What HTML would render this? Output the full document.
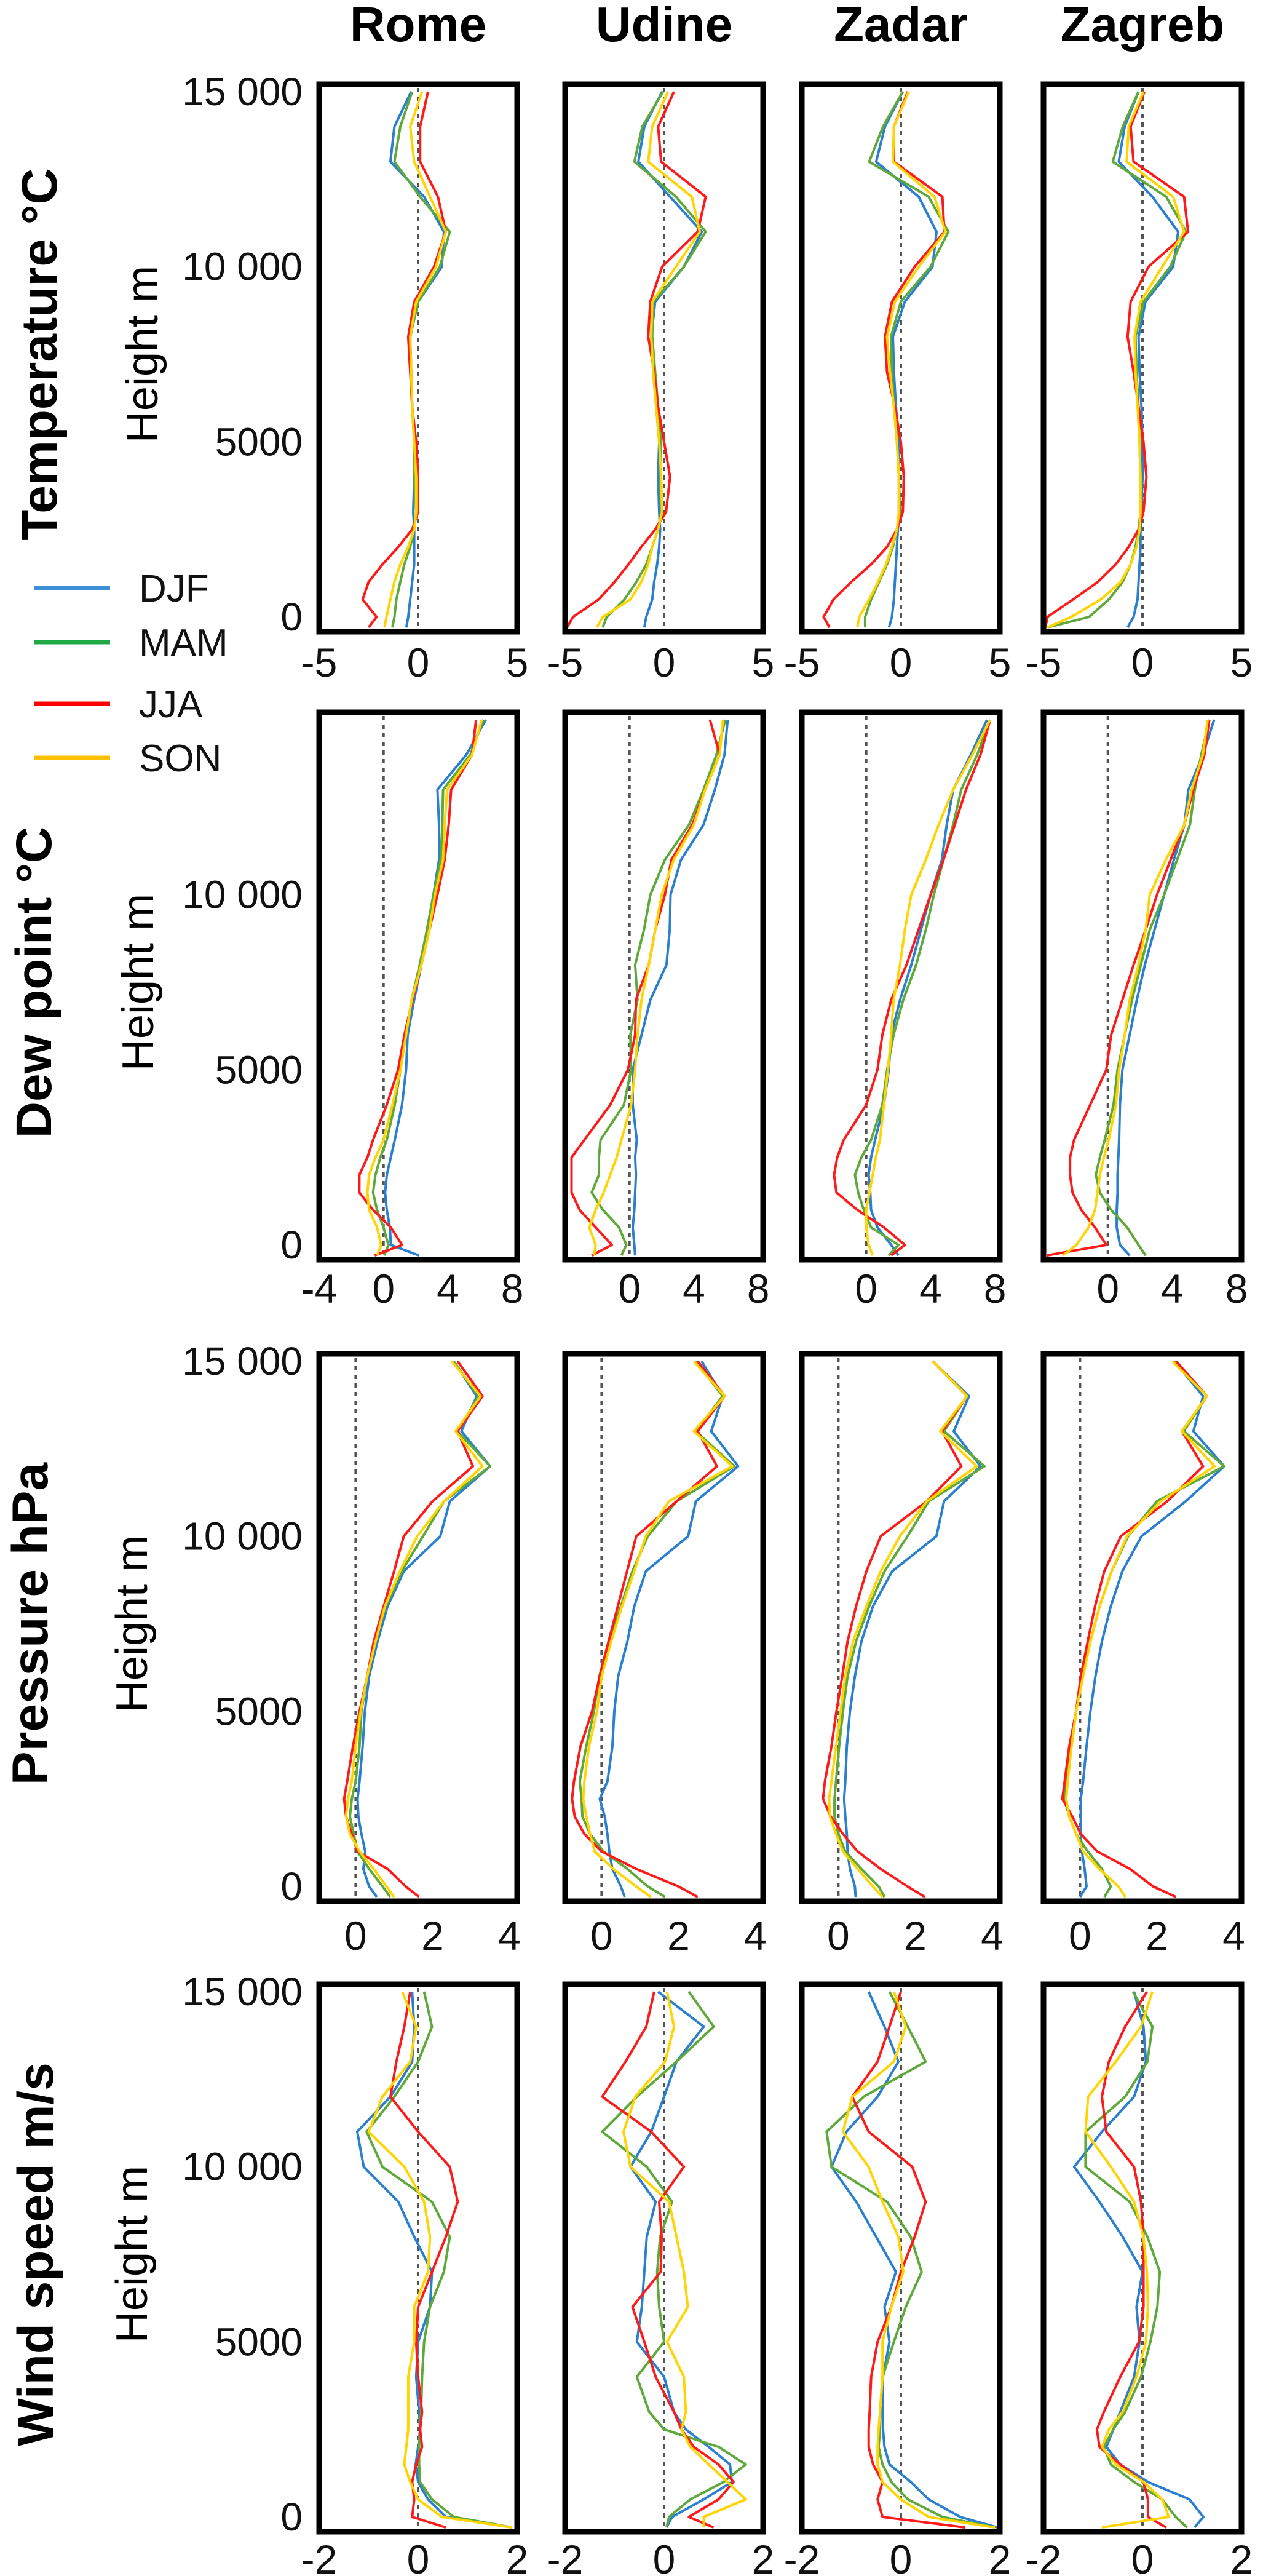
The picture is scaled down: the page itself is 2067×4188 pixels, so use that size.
<!DOCTYPE html>
<html><head><meta charset="utf-8"><style>
html,body{margin:0;padding:0;background:#fff;}
svg{display:block;font-family:"Liberation Sans",sans-serif;}
</style></head><body>
<svg id="fig" width="2067" height="4188" viewBox="0 0 2067 4188" xmlns="http://www.w3.org/2000/svg"></svg>
<script>
// Height levels (m) shared by all profiles
const levels = [-300,0,500,1000,1500,2000,2500,3000,4000,5000,6000,7000,8000,9000,10000,11000,12000,13000,14000,15000];
const seasons = ["DJF","MAM","JJA","SON"];
const cities = ["Rome","Udine","Zadar","Zagreb"];
const variables = ["temp","dew","pres","wind"];
const rowTitles = ["Temperature  °C","Dew point °C","Pressure  hPa","Wind speed  m/s"];
const yTickValues = [15000,10000,5000,0];
const yTickLabels = ["15 000","10 000","5000","0"];

// Temperature anomalies (°C)
const tempRomeDJF=[-0.6,-0.5,-0.4,-0.3,-0.2,-0.2,-0.2,-0.25,-0.2,-0.2,-0.3,-0.35,-0.4,0.0,1.2,1.3,0.3,-1.4,-1.2,-0.35];
const tempRomeMAM=[-1.3,-1.2,-1.1,-0.9,-0.7,-0.4,-0.2,-0.1,-0.2,-0.2,-0.3,-0.35,-0.4,0.0,1.1,1.6,0.1,-1.2,-0.9,-0.3];
const tempRomeJJA=[-2.5,-2.1,-2.8,-2.5,-1.8,-1.0,-0.3,0.0,0.0,-0.1,-0.3,-0.4,-0.5,-0.2,0.8,1.4,1.0,0.1,0.1,0.5];
const tempRomeSON=[-1.7,-1.6,-1.4,-1.2,-0.9,-0.5,-0.2,-0.1,-0.1,-0.2,-0.3,-0.35,-0.4,-0.1,0.9,1.4,0.6,-0.2,-0.4,0.2];
const tempUdineDJF=[-1.0,-0.9,-0.6,-0.5,-0.35,-0.25,-0.2,-0.25,-0.3,-0.25,-0.4,-0.55,-0.65,-0.45,1.0,1.9,0.3,-1.3,-1.0,-0.1];
const tempUdineMAM=[-3.1,-2.9,-2.0,-1.4,-0.9,-0.6,-0.3,-0.15,-0.2,-0.15,-0.3,-0.45,-0.6,-0.55,1.0,2.1,0.6,-1.5,-1.1,-0.05];
const tempUdineJJA=[-4.9,-4.6,-3.3,-2.5,-1.8,-1.15,-0.45,0.1,0.3,0.0,-0.3,-0.5,-0.8,-0.7,-0.1,1.7,2.1,-0.15,-0.3,0.5];
const tempUdineSON=[-3.4,-3.1,-1.7,-1.15,-0.8,-0.6,-0.3,-0.1,-0.15,-0.25,-0.4,-0.55,-0.65,-0.6,0.6,1.8,1.4,-0.8,-0.6,0.2];
const tempZadarDJF=[-0.6,-0.45,-0.35,-0.3,-0.25,-0.2,-0.15,-0.1,-0.1,-0.1,-0.25,-0.35,-0.4,0.2,1.6,1.8,0.9,-1.25,-0.8,0.1];
const tempZadarMAM=[-1.8,-1.8,-1.5,-1.1,-0.7,-0.4,-0.2,-0.05,-0.1,-0.2,-0.35,-0.45,-0.5,0.0,1.5,2.4,1.4,-1.6,-0.9,0.1];
const tempZadarJJA=[-3.6,-3.9,-3.4,-2.5,-1.5,-0.7,-0.2,0.1,0.15,0.0,-0.3,-0.7,-0.8,-0.45,0.7,2.2,2.1,-0.35,-0.35,0.35];
const tempZadarSON=[-2.2,-2.1,-1.6,-1.15,-0.75,-0.45,-0.2,-0.1,-0.1,-0.2,-0.35,-0.55,-0.7,-0.3,0.9,2.25,1.7,-0.4,-0.35,0.4];
const tempZagrebDJF=[-0.75,-0.45,-0.25,-0.2,-0.15,-0.1,-0.1,-0.05,0,0,-0.05,-0.15,-0.2,0.15,1.55,1.8,0.5,-1.2,-0.9,-0.2];
const tempZagrebMAM=[-4.8,-2.7,-1.7,-1.0,-0.6,-0.35,-0.2,-0.1,-0.1,-0.15,-0.2,-0.3,-0.35,0.05,1.4,2.2,1.2,-1.5,-1.0,-0.2];
const tempZagrebJJA=[-4.9,-4.8,-3.5,-2.25,-1.35,-0.7,-0.2,0.05,0.2,0.05,-0.2,-0.45,-0.75,-0.6,0.3,2.3,2.1,-0.45,-0.6,0.1];
const tempZagrebSON=[-4.8,-3.6,-2.1,-1.1,-0.6,-0.3,-0.15,-0.1,-0.1,-0.15,-0.25,-0.35,-0.4,-0.1,1.0,2.1,1.55,-0.8,-0.7,0.05];

// Dew point anomalies (°C)
const dewRomeDJF=[2.2,0.45,0.4,0.2,0.1,0.2,0.45,0.7,1.15,1.4,1.5,1.9,2.35,2.7,3.1,3.45,3.45,3.35,5.15,6.35];
const dewRomeMAM=[0.05,0.3,0.0,-0.4,-0.65,-0.5,-0.2,0.2,0.7,1.05,1.4,1.75,2.25,2.7,3.1,3.55,3.65,3.7,5.4,6.2];
const dewRomeJJA=[-0.55,1.15,0.45,-0.65,-1.5,-1.5,-1.0,-0.65,0.2,0.9,1.3,1.8,2.35,2.85,3.35,3.8,4.05,4.2,5.5,5.75];
const dewRomeSON=[-0.4,-0.15,-0.4,-0.9,-1.0,-0.9,-0.5,0.0,0.55,1.05,1.4,1.75,2.35,2.85,3.2,3.7,3.8,3.95,5.5,6.1];
const dewUdineDJF=[0.35,0.3,0.2,0.3,0.35,0.4,0.35,0.45,0.2,0.2,0.75,1.3,2.3,2.5,2.55,3.2,4.6,5.3,5.9,6.1];
const dewUdineMAM=[-0.5,-0.2,-0.65,-1.65,-2.35,-1.9,-1.9,-1.8,-0.35,0.1,0.05,0.5,0.35,0.9,1.3,2.2,3.7,4.6,5.4,5.95];
const dewUdineJJA=[-2.35,-1.1,-2.1,-3.1,-3.6,-3.6,-3.6,-2.8,-1.2,-0.1,0.35,0.4,1.2,1.6,2.2,2.6,3.9,4.7,5.6,5.0];
const dewUdineSON=[-2.2,-2.1,-2.5,-2.1,-1.6,-1.2,-0.8,-0.5,0.1,0.35,0.5,0.75,1.2,1.6,2.0,2.75,4.0,4.7,5.6,5.8];
const dewZadarDJF=[2.0,1.55,0.7,0.3,0.25,0.15,0.3,0.55,1.1,1.4,1.55,2.1,2.8,3.4,4.0,4.7,5.0,5.4,6.5,7.5];
const dewZadarMAM=[1.4,2.0,0.3,-0.15,-0.5,-0.7,-0.3,0.3,1.0,1.3,1.7,2.3,3.1,3.7,4.2,4.8,5.4,5.9,6.9,7.7];
const dewZadarJJA=[1.55,2.4,1.1,-0.55,-1.85,-2.0,-1.8,-1.4,0.0,0.7,1.0,1.55,2.5,3.25,4.0,4.8,5.5,6.2,7.1,7.7];
const dewZadarSON=[0.4,0.15,0.0,0.0,0.2,0.4,0.6,0.85,1.1,1.35,1.55,1.7,2.1,2.4,2.8,3.7,4.5,5.4,6.6,7.7];
const dewZagrebDJF=[1.35,0.75,0.55,0.55,0.6,0.6,0.65,0.7,0.75,0.9,1.35,1.8,2.3,2.9,3.5,4.1,4.75,5.0,5.9,6.6];
const dewZagrebMAM=[2.35,1.9,1.2,0.2,-0.5,-0.75,-0.5,-0.2,0.35,0.6,1.05,1.5,2.05,2.6,3.5,4.3,5.1,5.4,5.8,6.3];
const dewZagrebJJA=[-3.8,-0.1,-0.8,-1.65,-2.2,-2.35,-2.35,-2.1,-1.1,-0.1,0.2,0.9,1.6,2.35,3.05,3.9,4.75,5.3,6.0,6.3];
const dewZagrebSON=[-2.8,-1.95,-1.2,-0.8,-0.65,-0.5,-0.25,0.05,0.5,0.7,1.05,1.35,1.9,2.35,2.6,3.6,4.75,5.2,5.9,6.2];

// Pressure anomalies (hPa)
const presRomeDJF=[0.55,0.35,0.2,0.25,0.15,0.07,0.05,0.1,0.18,0.24,0.35,0.57,0.83,1.25,2.2,2.45,3.5,2.75,3.15,2.55];
const presRomeMAM=[0.9,0.7,0.35,0.05,-0.05,-0.15,-0.1,0.0,0.1,0.15,0.3,0.5,0.78,1.2,1.75,2.3,3.5,2.65,3.2,2.55];
const presRomeJJA=[1.65,1.3,0.83,0.05,-0.1,-0.25,-0.3,-0.22,-0.07,0.1,0.3,0.47,0.73,1.0,1.25,2.0,3.05,2.65,3.3,2.65];
const presRomeSON=[1.0,0.8,0.47,0.1,-0.15,-0.25,-0.2,-0.1,0.0,0.13,0.3,0.52,0.76,1.15,1.6,2.3,3.3,2.6,3.25,2.5];
const presUdineDJF=[0.6,0.5,0.28,0.2,0.15,0.08,-0.05,0.15,0.28,0.33,0.43,0.67,0.85,1.15,2.25,2.45,3.55,2.85,3.15,2.6];
const presUdineMAM=[1.65,1.2,0.67,0.05,-0.3,-0.5,-0.52,-0.57,-0.4,-0.2,-0.06,0.18,0.5,0.8,1.2,1.95,3.45,2.45,3.15,2.45];
const presUdineJJA=[2.5,2.0,0.9,0.0,-0.45,-0.7,-0.77,-0.72,-0.55,-0.25,-0.05,0.18,0.42,0.66,0.9,1.95,3.0,2.5,3.2,2.5];
const presUdineSON=[1.28,0.9,0.3,-0.18,-0.3,-0.4,-0.48,-0.45,-0.33,-0.12,0.0,0.25,0.53,0.85,1.15,1.75,3.4,2.4,3.2,2.4];
const presZadarDJF=[0.45,0.43,0.3,0.24,0.22,0.18,0.15,0.18,0.22,0.3,0.43,0.6,0.9,1.4,2.55,2.75,3.7,3.0,3.4,2.45];
const presZadarMAM=[1.2,1.05,0.6,0.18,0.0,-0.1,-0.1,-0.06,0.02,0.12,0.24,0.46,0.8,1.2,1.8,2.35,3.8,2.75,3.35,2.45];
const presZadarJJA=[2.25,1.8,1.1,0.5,0.12,-0.2,-0.4,-0.35,-0.18,-0.05,0.1,0.24,0.46,0.73,1.1,2.3,3.2,2.7,3.35,2.45];
const presZadarSON=[1.15,0.9,0.5,0.12,-0.06,-0.22,-0.24,-0.18,-0.06,0.06,0.18,0.38,0.73,1.1,1.6,2.3,3.6,2.65,3.35,2.45];
const presZagrebDJF=[0.0,0.17,0.12,0.05,0.02,0.02,0.02,0.08,0.17,0.27,0.4,0.57,0.8,1.1,1.6,2.75,3.75,2.95,3.2,2.45];
const presZagrebMAM=[0.63,0.8,0.57,0.2,-0.1,-0.28,-0.4,-0.34,-0.22,-0.1,0.05,0.27,0.51,0.82,1.25,2.0,3.75,2.7,3.3,2.45];
const presZagrebJJA=[2.5,1.9,1.3,0.45,0.02,-0.2,-0.46,-0.4,-0.28,-0.1,0.02,0.2,0.39,0.63,1.06,2.27,3.2,2.65,3.3,2.5];
const presZagrebSON=[1.18,1.0,0.5,0.08,-0.1,-0.28,-0.36,-0.32,-0.22,-0.1,0.08,0.27,0.51,0.82,1.22,2.1,3.5,2.65,3.3,2.4];

// Wind speed anomalies (m/s)
const windRomeDJF=[1.9,0.56,0.2,0.0,-0.05,0.0,0.04,0.02,-0.04,0.0,0.24,0.28,-0.08,-0.4,-1.1,-1.23,-0.56,-0.12,-0.08,-0.12];
const windRomeMAM=[1.9,0.72,0.28,0.04,0.02,0.02,0.04,0.06,0.08,0.12,0.24,0.52,0.64,0.28,-0.72,-1.04,-0.48,0.0,0.28,0.12];
const windRomeJJA=[0.56,-0.12,-0.08,-0.12,-0.04,0.08,0.04,0.08,0.0,-0.04,0.0,0.28,0.56,0.8,0.64,0.0,-0.56,-0.44,-0.28,-0.16];
const windRomeSON=[1.9,0.48,0.0,-0.16,-0.28,-0.24,-0.2,-0.2,-0.2,-0.08,-0.08,0.2,0.24,0.12,-0.28,-1.0,-0.72,-0.16,-0.04,-0.32];
const windUdineDJF=[0.05,0.16,0.8,1.37,1.33,0.9,0.44,0.2,0.0,-0.55,-0.45,-0.4,-0.35,-0.17,-0.68,-0.26,0.0,0.25,0.8,-0.12];
const windUdineMAM=[0.05,0.1,0.53,1.2,1.65,1.1,0.0,-0.3,-0.55,0.0,-0.1,-0.14,-0.08,0.16,-0.35,-1.25,-0.55,0.25,1.0,0.5];
const windUdineJJA=[1.0,0.5,1.1,1.4,1.1,0.6,0.35,0.2,-0.17,-0.4,-0.64,-0.07,-0.05,-0.1,0.4,-0.26,-1.25,-0.78,-0.36,-0.2];
const windUdineSON=[0.8,0.8,1.65,1.28,0.9,0.53,0.35,0.44,0.4,0.06,0.48,0.4,0.25,0.1,-0.68,-0.82,-0.58,0.02,0.2,0.06];
const windZadarDJF=[1.95,1.2,0.56,0.2,-0.23,-0.33,-0.36,-0.37,-0.36,-0.23,-0.33,-0.1,-0.5,-0.9,-1.4,-1.1,-0.47,-0.05,-0.33,-0.65];
const windZadarMAM=[1.9,0.84,0.14,-0.19,-0.37,-0.45,-0.42,-0.42,-0.37,-0.14,0.1,0.42,0.2,-0.28,-1.4,-1.5,-0.75,0.5,0.14,-0.23];
const windZadarJJA=[1.3,-0.37,-0.47,-0.37,-0.56,-0.65,-0.65,-0.63,-0.6,-0.47,-0.19,0.0,0.28,0.5,0.23,-0.65,-0.98,-0.47,-0.23,0.0];
const windZadarSON=[1.9,0.56,0.0,-0.37,-0.47,-0.47,-0.45,-0.42,-0.37,-0.37,-0.19,0.05,-0.05,-0.37,-0.65,-1.17,-0.98,-0.14,0.1,-0.14];
const windZagrebDJF=[1.05,1.23,0.95,0.11,-0.45,-0.73,-0.59,-0.45,-0.17,-0.06,-0.12,0.0,-0.4,-0.87,-1.38,-0.82,-0.17,0.07,0.02,-0.17];
const windZagrebMAM=[0.9,0.67,0.4,-0.17,-0.64,-0.78,-0.59,-0.35,-0.03,0.16,0.3,0.35,0.1,-0.26,-1.15,-1.15,-0.35,0.1,0.2,-0.19];
const windZagrebJJA=[0.48,0.11,0.11,0.02,-0.45,-0.87,-0.92,-0.78,-0.45,-0.07,0.02,0.02,0.02,-0.03,-0.17,-0.73,-0.82,-0.68,-0.35,0.09];
const windZagrebSON=[-0.82,0.53,0.4,0.02,-0.54,-0.82,-0.68,-0.4,-0.12,0.07,0.11,0.09,0.02,-0.17,-0.64,-1.15,-1.1,-0.54,-0.03,0.2];

// x-axis domains and tick labels per variable
const xDomains = {temp:[-5,5], dew:[-4,8.3], pres:[-0.95,4.2], wind:[-2,2]};
const xTicksFirst = {temp:[-5,0,5], dew:[-4,0,4,8], pres:[0,2,4], wind:[-2,0,2]};
const xTicksOther = {temp:[-5,0,5], dew:[0,4,8], pres:[0,2,4], wind:[-2,0,2]};

const series = {
  temp:{Rome:[tempRomeDJF,tempRomeMAM,tempRomeJJA,tempRomeSON],Udine:[tempUdineDJF,tempUdineMAM,tempUdineJJA,tempUdineSON],Zadar:[tempZadarDJF,tempZadarMAM,tempZadarJJA,tempZadarSON],Zagreb:[tempZagrebDJF,tempZagrebMAM,tempZagrebJJA,tempZagrebSON]},
  dew:{Rome:[dewRomeDJF,dewRomeMAM,dewRomeJJA,dewRomeSON],Udine:[dewUdineDJF,dewUdineMAM,dewUdineJJA,dewUdineSON],Zadar:[dewZadarDJF,dewZadarMAM,dewZadarJJA,dewZadarSON],Zagreb:[dewZagrebDJF,dewZagrebMAM,dewZagrebJJA,dewZagrebSON]},
  pres:{Rome:[presRomeDJF,presRomeMAM,presRomeJJA,presRomeSON],Udine:[presUdineDJF,presUdineMAM,presUdineJJA,presUdineSON],Zadar:[presZadarDJF,presZadarMAM,presZadarJJA,presZadarSON],Zagreb:[presZagrebDJF,presZagrebMAM,presZagrebJJA,presZagrebSON]},
  wind:{Rome:[windRomeDJF,windRomeMAM,windRomeJJA,windRomeSON],Udine:[windUdineDJF,windUdineMAM,windUdineJJA,windUdineSON],Zadar:[windZadarDJF,windZadarMAM,windZadarJJA,windZadarSON],Zagreb:[windZagrebDJF,windZagrebMAM,windZagrebJJA,windZagrebSON]}
};

const NS = "http://www.w3.org/2000/svg";
const svg = document.getElementById("fig");
const lineColors = ["#2a80cf","#5fa83a","#ff1a1a","#ffd400"];
const legendColors = ["#3c8fd6","#1faa45","#ff0000","#ffc000"];
const rowTop = [137,1158,2201,3226];
const colLeft = [519,919,1304,1697];
const boxW = 322, boxH = 890;
const xLabelBase = [1100,2118,3170,4184];
const heightLabelX = [256,249,239,239];
const rowTitleX = [92,83,77,86];

function el(tag, attrs, parent){
  const e = document.createElementNS(NS, tag);
  for (const k in attrs) e.setAttribute(k, attrs[k]);
  (parent||svg).appendChild(e);
  return e;
}
function yScale(r, v){ return rowTop[r] + 12 + (15000 - v) / 15000 * 854; }
function xScale(c, vname, v){ const d = xDomains[vname]; return colLeft[c] + (v - d[0]) / (d[1] - d[0]) * boxW; }

// city titles
cities.forEach((city, c) => {
  const t = el("text", {x: colLeft[c] + boxW/2, y: 67, "text-anchor":"middle", "font-size":80, "font-weight":"bold", fill:"#000"});
  
  
  t.textContent = city;
});

variables.forEach((vname, r) => {
  const cy = rowTop[r] + 12 + 427;
  // row title
  const rt = el("text", {x: rowTitleX[r], y: cy, transform: `rotate(-90 ${rowTitleX[r]} ${cy})`, "text-anchor":"middle", "font-size":82, "font-weight":"bold", fill:"#000"});
  
  
  rt.textContent = rowTitles[r];
  // y axis title
  const hx = heightLabelX[r];
  const ht = el("text", {x: hx, y: cy, transform: `rotate(-90 ${hx} ${cy})`, "text-anchor":"middle", "font-size":72, fill:"#000"});
  
  
  ht.textContent = "Height m";
  // y tick labels
  yTickValues.forEach((tv, i) => {
    if (r === 1 && tv === 15000) return;
    const t = el("text", {x: 492, y: yScale(r, tv) + 22, "text-anchor":"end", "font-size":64, fill:"#111"});
    
    
    t.textContent = yTickLabels[i];
  });

  cities.forEach((city, c) => {
    const g = el("g", {});
    
    
    const clipId = `clip-${r}-${c}`;
    const cp = el("clipPath", {id: clipId}, g);
    el("rect", {x: colLeft[c], y: rowTop[r], width: boxW, height: boxH}, cp);
    // zero reference line
    const zx = xScale(c, vname, 0);
    const zl = el("line", {x1: zx, x2: zx, y1: rowTop[r] + 6, y2: rowTop[r] + boxH - 6, stroke:"#555", "stroke-width":4, "stroke-dasharray":"7 7"}, g);
    
    
    // series lines
    const cg = el("g", {"clip-path": `url(#${clipId})`}, g);
    series[vname][city].forEach((vals, s) => {
      const pts = vals.map((v, i) => xScale(c, vname, v).toFixed(1) + "," + yScale(r, levels[i]).toFixed(1)).join(" ");
      const pl = el("polyline", {points: pts, fill:"none", stroke: lineColors[s], "stroke-width":4, "stroke-linejoin":"round"}, cg);
      
      
    });
    // frame
    const fr = el("rect", {x: colLeft[c], y: rowTop[r], width: boxW, height: boxH, fill:"none", stroke:"#000", "stroke-width":9}, g);
    
    
    // x tick labels
    const ticks = c === 0 ? xTicksFirst[vname] : xTicksOther[vname];
    ticks.forEach(tv => {
      const t = el("text", {x: xScale(c, vname, tv), y: xLabelBase[r], "text-anchor":"middle", "font-size":66, fill:"#111"}, g);
      
      
      t.textContent = String(tv);
    });
  });
});

// legend
const legendY = [956,1044,1144,1232];
const lg = el("g", {});


seasons.forEach((s, i) => {
  const ln = el("line", {x1: 56, x2: 179, y1: legendY[i], y2: legendY[i], stroke: legendColors[i], "stroke-width":7}, lg);
  
  
  const t = el("text", {x: 226, y: legendY[i] + 22, "font-size":62, fill:"#111"}, lg);
  
  
  t.textContent = s;
});
</script>
</body></html>
